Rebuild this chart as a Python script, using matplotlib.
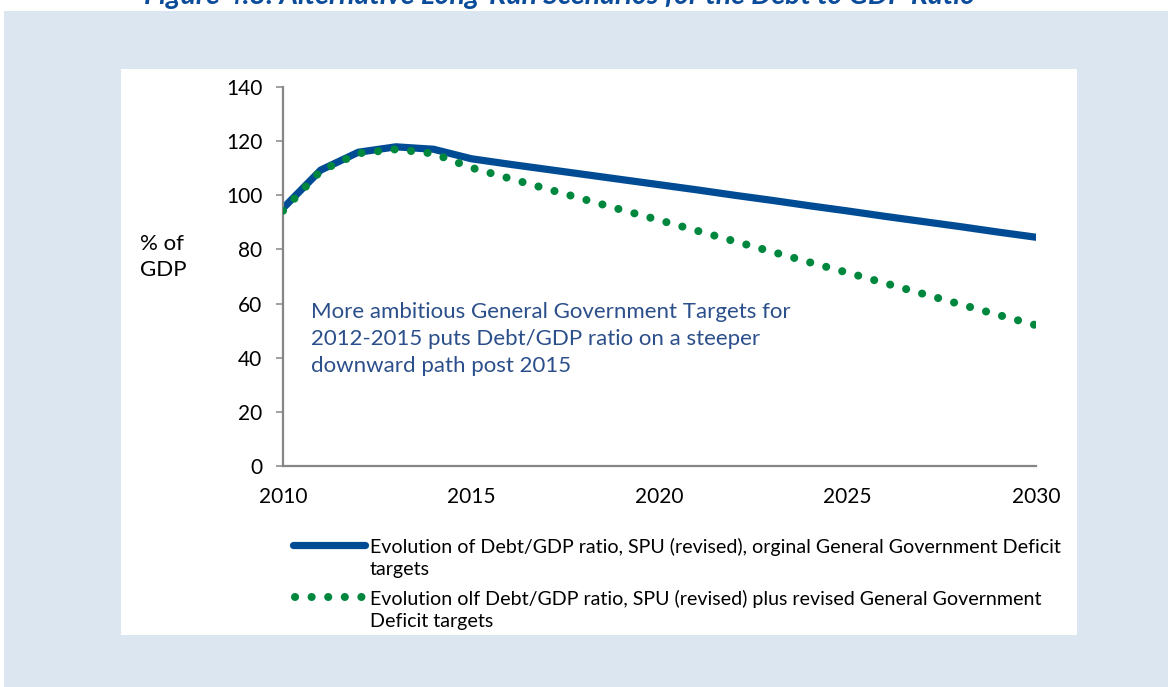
import numpy as np
import matplotlib
matplotlib.use("Agg")
from matplotlib import pyplot as plt
from matplotlib.lines import Line2D
from matplotlib.patches import Rectangle

plt.rcParams['font.family'] = ['Lato', 'DejaVu Sans']

# data
years = list(range(2010, 2031))
debt_orig = [95.2, 109.3, 115.9, 117.9, 117.0, 113.5, 111.5, 109.6, 107.7, 105.8, 103.9,
             102.0, 100.0, 98.1, 96.1, 94.2, 92.2, 90.3, 88.4, 86.4, 84.5]
debt_rev = [94.3, 109.0, 115.5, 117.0, 115.4, 110.2, 106.3, 102.4, 98.5, 94.6, 90.8,
            86.9, 83.0, 79.1, 75.2, 71.4, 67.5, 63.6, 59.7, 55.8, 52.0]
xticks = [2010, 2015, 2020, 2025, 2030]
yticks = [0, 20, 40, 60, 80, 100, 120, 140]

lbl_orig = "Evolution of Debt/GDP ratio, SPU (revised), orginal General Government Deficit\ntargets"
lbl_rev = "Evolution olf Debt/GDP ratio, SPU (revised) plus revised General Government\nDeficit targets"
note = ("More ambitious General Government Targets for\n"
        "2012-2015 puts Debt/GDP ratio on a steeper\n"
        "downward path post 2015")
title = "Figure 4.8: Alternative Long-Run Scenarios for the Debt to GDP Ratio"

blue = '#004C94'
green = '#00873E'
axcol = '#868686'
dots = (0, (0.01, 2.05))

W, H = 1168, 687
fig = plt.figure(figsize=(W/100, H/100), dpi=100)

# background panels
fig.patches.append(Rectangle((4/W, 0), 1, 1 - 11/H, transform=fig.transFigure,
                             facecolor='#DCE6F1', edgecolor='none', zorder=-2))
fig.patches.append(Rectangle((121/W, 1 - 635/H), 956/W, 566/H, transform=fig.transFigure,
                             facecolor='white', edgecolor='none', zorder=-1))
fig.text(560/W, 1 - 4/H, title, ha='center', va='baseline', fontsize=20.5,
         fontweight='bold', fontstyle='italic', color='#0A4C9A')

ax = fig.add_axes([283/W, 1 - 466/H, (1036 - 283)/W, (466 - 87)/H])
ax.patch.set_alpha(0)

ax.plot(years, debt_orig, color=blue, lw=5.2, solid_capstyle='round',
        solid_joinstyle='round', zorder=2)
ax.plot(years, debt_rev, color=green, lw=5.8, linestyle=dots,
        dash_capstyle='round', zorder=3)

ax.set_xlim(2010, 2030)
ax.set_ylim(0, 140)
ax.set_xticks(xticks)
ax.set_yticks(yticks)
ax.tick_params(axis='x', length=0, pad=15, labelsize=15)
ax.tick_params(axis='y', length=5, width=1.1, color=axcol, pad=10, labelsize=15)
for s in ['top', 'right']:
    ax.spines[s].set_visible(False)
for s in ['left', 'bottom']:
    ax.spines[s].set_color(axcol)
    ax.spines[s].set_linewidth(1.6)

ax.text(2010.74, 46.9, note, color='#2B4F8A', fontsize=16, va='center',
        ha='left', linespacing=1.42)
fig.text(140/W, 1 - 257/H, "% of\nGDP", fontsize=16, va='center', ha='left',
         linespacing=1.4)

# legend drawn by hand so the sample sits on the first text line
fig.add_artist(Line2D([293/W, 365/W], [1 - 545/H] * 2, color=blue, lw=5.2,
                      solid_capstyle='round'))
fig.add_artist(Line2D([295/W, 362/W], [1 - 597/H] * 2, color=green, lw=5.8,
                      linestyle=dots, dash_capstyle='round'))
fig.text(370/W, 1 - 558/H, lbl_orig, fontsize=14.1, va='center', ha='left',
         linespacing=1.4)
fig.text(370/W, 1 - 610/H, lbl_rev, fontsize=14.1, va='center', ha='left',
         linespacing=1.4)

fig.savefig('out.png', dpi=100)
